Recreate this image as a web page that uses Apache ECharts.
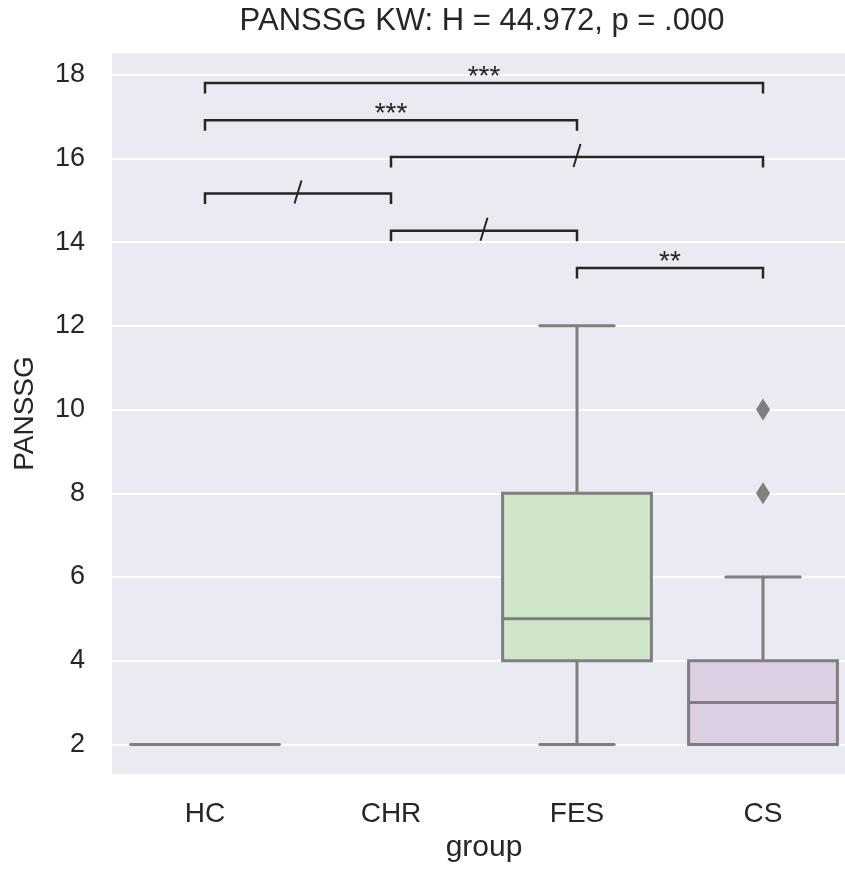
<!DOCTYPE html>
<html>
<head>
<meta charset="utf-8">
<script src="https://cdn.jsdelivr.net/npm/echarts@6/dist/echarts.min.js"></script>
<style>html,body{margin:0;padding:0;background:#fff}#c{width:845px;height:874px}</style>
</head>
<body>
<div id="c"></div>
<script>
// ---- data ----
const categories = ['HC', 'CHR', 'FES', 'CS'];
// [min, Q1, median, Q3, max] per group (CHR has no box)
const statsHC  = [2, 2, 2, 2, 2];
const statsCHR = null;
const statsFES = [2, 4, 5, 8, 12];
const statsCS  = [2, 2, 3, 4, 6];
const outliersCS = [8, 10];
const boxFills = ['#f6c8c4', '#c5d6e6', '#d0e6cb', '#dccfe3'];

const bracketFrom  = ['HC', 'HC', 'CHR', 'HC', 'CHR', 'FES'];
const bracketTo    = ['CS', 'FES', 'CS', 'CHR', 'FES', 'CS'];
const bracketY     = [17.8, 16.91, 16.03, 15.16, 14.27, 13.38];
const bracketLabel = ['***', '***', '/', '/', '/', '**'];

const yTicks = [2, 4, 6, 8, 10, 12, 14, 16, 18];
const titleText = 'PANSSG KW: H = 44.972, p = .000';

// ---- build ----
const allStats = [statsHC, statsCHR, statsFES, statsCS];
const boxData = [];
allStats.forEach((s, i) => { if (s) boxData.push([i].concat(s)); });
const outlierData = outliersCS.map(v => [categories.indexOf('CS'), v]);
const bracketData = bracketY.map((y, k) => [categories.indexOf(bracketFrom[k]), categories.indexOf(bracketTo[k]), y, k]);

const LINE = '#7f7f7f';
const INK = '#262626';
const FONT = '"Liberation Sans", Arial, sans-serif';

const chart = echarts.init(document.getElementById('c'), null, {renderer: 'canvas'});
chart.setOption({
  animation: false,
  backgroundColor: '#ffffff',
  graphic: [{
    type: 'text', x: 482, y: 21, z: 10,
    style: {text: titleText, font: '31px ' + FONT, fill: INK, align: 'center', verticalAlign: 'middle'}
  }],
  grid: {left: 112, top: 52, width: 744, height: 723, show: true, backgroundColor: '#eaeaf2', borderWidth: 0,
         containLabel: false, outerBoundsMode: 'none'},
  xAxis: {
    type: 'category', data: categories, boundaryGap: true,
    axisLine: {show: false}, axisTick: {show: false}, splitLine: {show: false},
    axisLabel: {fontSize: 28, color: INK, margin: 25, fontFamily: FONT},
    name: 'group', nameLocation: 'middle', nameGap: 43,
    nameTextStyle: {fontSize: 30, color: INK, fontFamily: FONT}
  },
  yAxis: {
    type: 'value', min: 1.27, max: 18.54, splitNumber: 8,
    axisLine: {show: false}, axisTick: {show: false},
    splitLine: {show: true, lineStyle: {color: '#ffffff', width: 2}},
    axisLabel: {
      fontSize: 27, color: INK, margin: 27, fontFamily: FONT, showMinLabel: false, showMaxLabel: false,
      formatter: v => (yTicks.indexOf(v) >= 0 ? String(v) : '')
    },
    name: 'PANSSG', nameLocation: 'middle', nameGap: 73, nameRotate: 90,
    nameTextStyle: {fontSize: 28, color: INK, fontFamily: FONT}
  },
  series: [
    {
      type: 'custom', name: 'box', data: boxData, encode: {x: 0, y: [1, 2, 3, 4, 5]}, z: 3,
      renderItem: function (params, api) {
        const i = api.value(0);
        const cx = api.coord([i, 0])[0];
        const band = api.size([1, 0])[0];
        const bw = band * 0.8, cw = bw / 2;
        const yMin = api.coord([i, api.value(1)])[1];
        const yQ1 = api.coord([i, api.value(2)])[1];
        const yMed = api.coord([i, api.value(3)])[1];
        const yQ3 = api.coord([i, api.value(4)])[1];
        const yMax = api.coord([i, api.value(5)])[1];
        const ls = {stroke: LINE, lineWidth: 3, lineCap: 'round'};
        return {
          type: 'group',
          children: [
            {type: 'line', shape: {x1: cx, y1: yQ3, x2: cx, y2: yMax}, style: ls},
            {type: 'line', shape: {x1: cx, y1: yQ1, x2: cx, y2: yMin}, style: ls},
            {type: 'line', shape: {x1: cx - cw / 2, y1: yMax, x2: cx + cw / 2, y2: yMax}, style: ls},
            {type: 'line', shape: {x1: cx - cw / 2, y1: yMin, x2: cx + cw / 2, y2: yMin}, style: ls},
            {type: 'rect', shape: {x: cx - bw / 2, y: yQ3, width: bw, height: yQ1 - yQ3},
             style: {fill: boxFills[i], stroke: LINE, lineWidth: 3, lineJoin: 'miter'}},
            {type: 'line', shape: {x1: cx - bw / 2, y1: yMed, x2: cx + bw / 2, y2: yMed}, style: ls}
          ]
        };
      }
    },
    {
      type: 'scatter', name: 'outliers', data: outlierData, symbol: 'diamond', symbolSize: [14, 22], z: 4,
      itemStyle: {color: LINE, opacity: 1}
    },
    {
      type: 'custom', name: 'brackets', data: bracketData, z: 5,
      encode: {x: [0, 1], y: 2},
      renderItem: function (params, api) {
        const x1 = api.value(0), x2 = api.value(1), y = api.value(2), k = api.value(3);
        const p1 = api.coord([x1, y]), p2 = api.coord([x2, y]);
        const tick = 10.5;
        const cx = (p1[0] + p2[0]) / 2, py = p1[1];
        const children = [{
          type: 'polyline',
          shape: {points: [[p1[0], py + tick], [p1[0], py], [p2[0], py], [p2[0], py + tick]]},
          style: {stroke: INK, lineWidth: 2.5, fill: null, lineJoin: 'miter', lineCap: 'butt'}
        }];
        const lab = bracketLabel[k];
        if (lab === '/') {
          children.push({type: 'line', shape: {x1: cx + 3.5, y1: py - 13, x2: cx - 3.5, y2: py + 10},
            style: {stroke: INK, lineWidth: 2}});
        } else {
          children.push({type: 'text', x: cx, y: py - 6,
            style: {text: lab, font: '28px ' + FONT, fill: INK, align: 'center', verticalAlign: 'middle'}});
        }
        return {type: 'group', children: children};
      }
    }
  ]
});
</script>
</body>
</html>
